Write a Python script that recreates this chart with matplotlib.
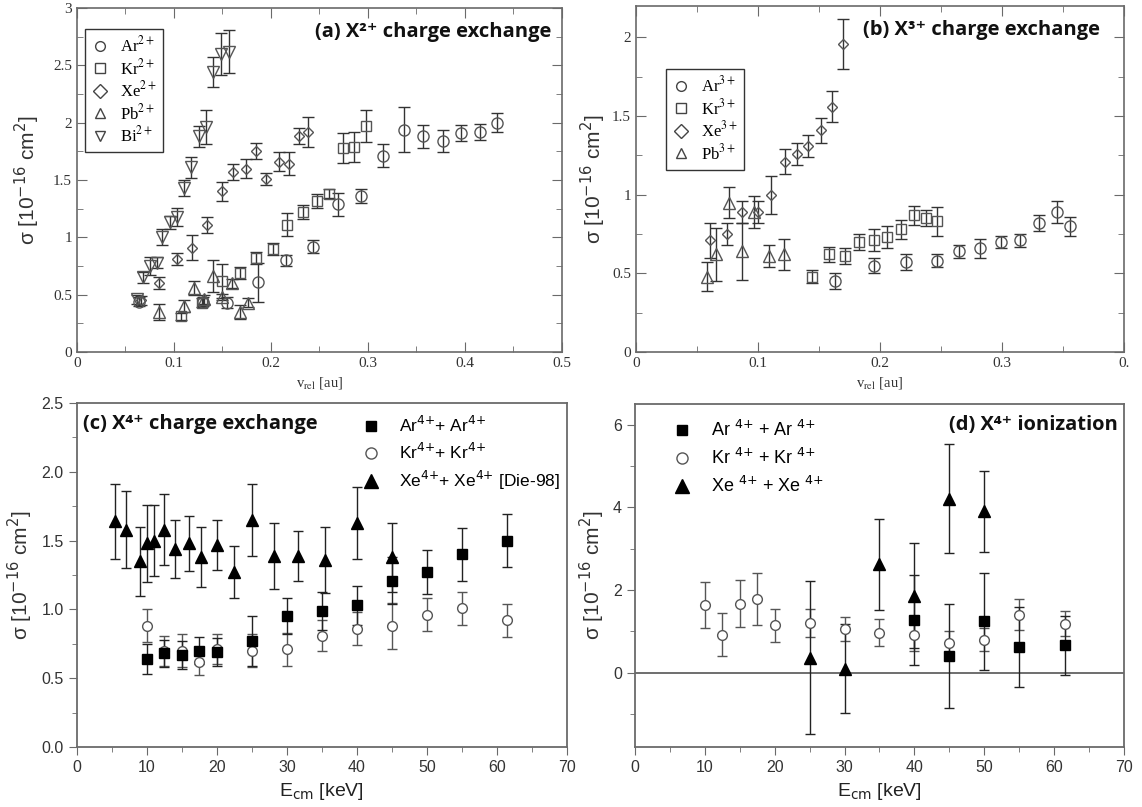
import matplotlib
matplotlib.use("Agg")
import matplotlib.pyplot as plt
from matplotlib.lines import Line2D
from matplotlib.ticker import MultipleLocator

# ---- (a) X2+ charge exchange : v_rel [au], sigma, error ----
ar2_v = [0.064, 0.130, 0.155, 0.187, 0.216, 0.243, 0.269, 0.293, 0.316, 0.337, 0.357, 0.377, 0.396, 0.415, 0.433]
ar2_s = [0.44, 0.44, 0.43, 0.61, 0.80, 0.92, 1.29, 1.36, 1.71, 1.94, 1.88, 1.84, 1.91, 1.92, 2.00]
ar2_e = [0.04, 0.04, 0.05, 0.17, 0.05, 0.06, 0.10, 0.06, 0.10, 0.20, 0.10, 0.10, 0.07, 0.07, 0.08]
kr2_v = [0.107, 0.129, 0.150, 0.168, 0.185, 0.202, 0.217, 0.233, 0.247, 0.260, 0.274, 0.286, 0.298]
kr2_s = [0.31, 0.43, 0.62, 0.69, 0.82, 0.90, 1.11, 1.22, 1.32, 1.38, 1.78, 1.79, 1.97]
kr2_e = [0.03, 0.04, 0.15, 0.05, 0.05, 0.05, 0.10, 0.06, 0.06, 0.04, 0.13, 0.13, 0.14]
xe2_v = [0.066, 0.085, 0.103, 0.119, 0.134, 0.149, 0.161, 0.174, 0.185, 0.195, 0.208, 0.219, 0.229, 0.238]
xe2_s = [0.45, 0.60, 0.81, 0.91, 1.11, 1.40, 1.57, 1.60, 1.75, 1.51, 1.66, 1.64, 1.88, 1.92]
xe2_e = [0.04, 0.05, 0.05, 0.11, 0.07, 0.08, 0.07, 0.08, 0.07, 0.05, 0.08, 0.10, 0.07, 0.13]
pb2_v = [0.085, 0.110, 0.121, 0.131, 0.140, 0.150, 0.160, 0.168, 0.176]
pb2_s = [0.35, 0.40, 0.56, 0.46, 0.66, 0.48, 0.60, 0.35, 0.43]
pb2_e = [0.07, 0.05, 0.06, 0.04, 0.14, 0.03, 0.04, 0.06, 0.04]
bi2_v = [0.062, 0.068, 0.075, 0.083, 0.088, 0.096, 0.103, 0.110, 0.118, 0.126, 0.133, 0.140, 0.148, 0.157]
bi2_s = [0.46, 0.65, 0.75, 0.78, 1.00, 1.13, 1.18, 1.43, 1.61, 1.88, 1.96, 2.44, 2.60, 2.62]
bi2_e = [0.04, 0.05, 0.08, 0.05, 0.07, 0.06, 0.08, 0.07, 0.09, 0.09, 0.15, 0.13, 0.18, 0.19]

# ---- (b) X3+ charge exchange ----
ar3_v = [0.163, 0.195, 0.221, 0.247, 0.265, 0.282, 0.299, 0.315, 0.330, 0.345, 0.356]
ar3_s = [0.45, 0.55, 0.57, 0.58, 0.64, 0.66, 0.70, 0.71, 0.82, 0.89, 0.80]
ar3_e = [0.05, 0.05, 0.05, 0.04, 0.04, 0.06, 0.04, 0.04, 0.05, 0.07, 0.06]
kr3_v = [0.144, 0.158, 0.171, 0.183, 0.195, 0.206, 0.217, 0.228, 0.238, 0.247]
kr3_s = [0.48, 0.62, 0.61, 0.70, 0.71, 0.73, 0.78, 0.87, 0.85, 0.83]
kr3_e = [0.04, 0.05, 0.05, 0.05, 0.07, 0.07, 0.06, 0.06, 0.05, 0.09]
xe3_v = [0.061, 0.075, 0.087, 0.100, 0.111, 0.122, 0.132, 0.141, 0.152, 0.161, 0.170]
xe3_s = [0.71, 0.75, 0.89, 0.89, 1.00, 1.21, 1.26, 1.31, 1.41, 1.56, 1.96]
xe3_e = [0.11, 0.07, 0.07, 0.07, 0.12, 0.08, 0.07, 0.07, 0.08, 0.10, 0.16]
pb3_v = [0.058, 0.066, 0.076, 0.087, 0.097, 0.109, 0.121]
pb3_s = [0.48, 0.62, 0.95, 0.64, 0.89, 0.61, 0.62]
pb3_e = [0.09, 0.17, 0.10, 0.18, 0.10, 0.07, 0.10]

# ---- (c) X4+ charge exchange : E_cm [keV] ----
e_arkr = [10, 12.5, 15, 17.5, 20, 25, 30, 35, 40, 45, 50, 55, 61.5]
ar4_cx = [0.64, 0.68, 0.67, 0.70, 0.69, 0.77, 0.95, 0.99, 1.03, 1.21, 1.27, 1.40, 1.50]
ar4_cx_e = [0.11, 0.10, 0.10, 0.10, 0.10, 0.18, 0.13, 0.14, 0.14, 0.17, 0.16, 0.19, 0.19]
kr4_cx = [0.88, 0.70, 0.70, 0.62, 0.71, 0.70, 0.71, 0.81, 0.86, 0.88, 0.96, 1.01, 0.92]
kr4_cx_e = [0.12, 0.11, 0.12, 0.10, 0.11, 0.12, 0.12, 0.11, 0.12, 0.17, 0.12, 0.12, 0.12]
e_xe_cx = [5.5, 7, 9, 10, 11, 12.5, 14, 16, 17.7, 20, 22.5, 25, 28.2, 31.6, 35.4, 40, 45]
xe4_cx = [1.64, 1.58, 1.35, 1.48, 1.50, 1.58, 1.44, 1.48, 1.38, 1.47, 1.27, 1.65, 1.39, 1.39, 1.36, 1.63, 1.38]
xe4_cx_e = [0.27, 0.28, 0.25, 0.28, 0.26, 0.26, 0.21, 0.20, 0.22, 0.18, 0.19, 0.26, 0.24, 0.18, 0.24, 0.26, 0.25]

# ---- (d) X4+ ionization ----
kr4_ion = [1.64, 0.92, 1.67, 1.78, 1.15, 1.21, 1.05, 0.97, 0.92, 0.71, 0.80, 1.40, 1.18]
kr4_ion_e = [0.56, 0.52, 0.57, 0.63, 0.40, 0.34, 0.29, 0.33, 0.40, 0.30, 0.28, 0.38, 0.30]
e_ar_ion = [40, 45, 50, 55, 61.5]
ar4_ion = [1.27, 0.41, 1.24, 0.62, 0.66]
ar4_ion_e = [1.09, 1.26, 1.17, 0.96, 0.72]
e_xe_ion = [25, 30, 35, 40, 45, 50]
xe4_ion = [0.36, 0.10, 2.62, 1.86, 4.21, 3.90]
xe4_ion_e = [1.85, 1.08, 1.10, 1.27, 1.31, 0.97]

SERIF = ["Liberation Serif", "DejaVu Serif"]
SANS = ["Liberation Sans", "DejaVu Sans"]
BOLD = ["Open Sans", "DejaVu Sans"]
SPINE = "#6a6a6a"
SIG_LABEL = "σ [10$^{-16}$ cm$^{2}$]"
Q4 = "$^{4{+}}$"

fig = plt.figure(figsize=(11.42, 8.07), dpi=100)


def open_errorbar(ax, x, y, e, marker, ms=7):
    ax.errorbar(x, y, yerr=e, fmt=marker, ms=ms, mfc="none", mec="#555555",
                mew=1.0, ecolor="#333333", elinewidth=1.0, capsize=4, capthick=1.0)


def style_serif_axes(ax):
    for s in ax.spines.values():
        s.set_color(SPINE)
        s.set_linewidth(1.2)
    ax.tick_params(which="both", direction="in", top=True, right=True, color=SPINE)
    ax.tick_params(which="major", length=7)
    ax.tick_params(which="minor", length=4)
    for t in ax.get_xticklabels() + ax.get_yticklabels():
        t.set_family(SERIF)
        t.set_fontsize(11)
        t.set_color("#333333")


def style_sans_axes(ax):
    for s in ax.spines.values():
        s.set_color(SPINE)
        s.set_linewidth(1.3)
    ax.tick_params(which="both", direction="out", color=SPINE)
    ax.tick_params(which="major", length=6)
    ax.tick_params(which="minor", length=3.5)
    for t in ax.get_xticklabels() + ax.get_yticklabels():
        t.set_family(SANS)
        t.set_fontsize(11.5)
        t.set_color("#333333")


def sigma_label(ax, pad):
    ax.set_ylabel(SIG_LABEL, family=SANS, fontsize=15, math_fontfamily="dejavusans",
                  labelpad=pad, color="#333333")


def serif_legend(ax, labels, markers, anchor):
    handles = [Line2D([], [], ls="none", marker=m, ms=7, mfc="none", mec="#444444", mew=1.0)
               for m in markers]
    leg = ax.legend(handles, labels, loc="upper left", bbox_to_anchor=anchor,
                    prop={"family": SERIF, "size": 12, "math_fontfamily": "stix"},
                    fancybox=False, edgecolor="#333333", framealpha=1,
                    handlelength=1.0, handletextpad=0.7, labelspacing=0.15,
                    borderpad=0.4, borderaxespad=0)
    leg.get_frame().set_linewidth(1.0)


# ---------------- (a) ----------------
ax_a = fig.add_axes([0.0674, 0.5638, 0.4247, 0.4263])
open_errorbar(ax_a, ar2_v, ar2_s, ar2_e, "o", ms=8)
open_errorbar(ax_a, kr2_v, kr2_s, kr2_e, "s", ms=6.5)
open_errorbar(ax_a, xe2_v, xe2_s, xe2_e, "D", ms=5.5)
open_errorbar(ax_a, pb2_v, pb2_s, pb2_e, "^", ms=8)
open_errorbar(ax_a, bi2_v, bi2_s, bi2_e, "v", ms=8)
ax_a.set_xlim(0, 0.5)
ax_a.set_ylim(0, 3)
ax_a.set_xticks([0, 0.1, 0.2, 0.3, 0.4, 0.5], ["0", "0.1", "0.2", "0.3", "0.4", "0.5"])
ax_a.set_yticks([0, 0.5, 1, 1.5, 2, 2.5, 3], ["0", "0.5", "1", "1.5", "2", "2.5", "3"])
ax_a.xaxis.set_minor_locator(MultipleLocator(0.05))
ax_a.yaxis.set_minor_locator(MultipleLocator(0.25))
style_serif_axes(ax_a)
ax_a.set_xlabel(r"v$_{\rm rel}$ [au]", family=SERIF, fontsize=10.5, math_fontfamily="stix",
                labelpad=4, color="#333333")
sigma_label(ax_a, 8)
serif_legend(ax_a, [r"Ar$^{2+}$", r"Kr$^{2+}$", r"Xe$^{2+}$", r"Pb$^{2+}$", r"Bi$^{2+}$"],
             ["o", "s", "D", "^", "v"], (0.0165, 0.939))
ax_a.text(0.979, 0.93, "(a) X²⁺ charge exchange", transform=ax_a.transAxes,
          ha="right", va="center", fontsize=14.5, fontweight="bold", family=BOLD, color="#111111")

# ---------------- (b) ----------------
ax_b = fig.add_axes([0.5569, 0.5638, 0.4273, 0.4288])
open_errorbar(ax_b, ar3_v, ar3_s, ar3_e, "o", ms=8)
open_errorbar(ax_b, kr3_v, kr3_s, kr3_e, "s", ms=6.5)
open_errorbar(ax_b, xe3_v, xe3_s, xe3_e, "D", ms=5.5)
open_errorbar(ax_b, pb3_v, pb3_s, pb3_e, "^", ms=8)
ax_b.set_xlim(0, 0.4)
ax_b.set_ylim(0, 2.2)
ax_b.set_xticks([0, 0.1, 0.2, 0.3, 0.4], ["0", "0.1", "0.2", "0.3", "0."])
ax_b.set_yticks([0, 0.5, 1, 1.5, 2], ["0", "0.5", "1", "1.5", "2"])
ax_b.xaxis.set_minor_locator(MultipleLocator(0.05))
ax_b.yaxis.set_minor_locator(MultipleLocator(0.25))
style_serif_axes(ax_b)
ax_b.set_xlabel(r"v$_{\rm rel}$ [au]", family=SERIF, fontsize=10.5, math_fontfamily="stix",
                labelpad=4, color="#333333")
sigma_label(ax_b, 3)
serif_legend(ax_b, [r"Ar$^{3+}$", r"Kr$^{3+}$", r"Xe$^{3+}$", r"Pb$^{3+}$"],
             ["o", "s", "D", "^"], (0.0615, 0.818))
ax_b.text(0.951, 0.93, "(b) X³⁺ charge exchange", transform=ax_b.transAxes,
          ha="right", va="center", fontsize=14.5, fontweight="bold", family=BOLD, color="#111111")


# ---------------- (c) and (d) helpers ----------------
def filled(ax, x, y, e, marker, ms):
    ax.errorbar(x, y, yerr=e, fmt=marker, ms=ms, mfc="black", mec="black",
                ecolor="#222222", elinewidth=1.0, capsize=3.5, capthick=1.0)


def hollow(ax, x, y, e, ms=7):
    ax.errorbar(x, y, yerr=e, fmt="o", ms=ms, mfc="white", mec="#555555", mew=1.0,
                ecolor="#555555", elinewidth=1.0, capsize=3.5, capthick=1.0)


def sans_legend(ax, labels, anchor, spacing, size):
    handles = [
        Line2D([], [], ls="none", marker="s", ms=7.5, mfc="black", mec="black"),
        Line2D([], [], ls="none", marker="o", ms=8, mfc="white", mec="#555555", mew=1.0),
        Line2D([], [], ls="none", marker="^", ms=9.5, mfc="black", mec="black"),
    ]
    ax.legend(handles, labels, loc="upper left", bbox_to_anchor=anchor, frameon=False,
              prop={"family": SANS, "size": size, "math_fontfamily": "dejavusans"},
              handlelength=1.2, handletextpad=1.0, labelspacing=spacing, borderaxespad=0)


# ---------------- (c) ----------------
ax_c = fig.add_axes([0.0674, 0.0743, 0.429, 0.4263])
hollow(ax_c, e_arkr, kr4_cx, kr4_cx_e)
filled(ax_c, e_arkr, ar4_cx, ar4_cx_e, "s", 6.5)
filled(ax_c, e_xe_cx, xe4_cx, xe4_cx_e, "^", 8.5)
ax_c.set_xlim(0, 70)
ax_c.set_ylim(0, 2.5)
ax_c.xaxis.set_major_locator(MultipleLocator(10))
ax_c.xaxis.set_minor_locator(MultipleLocator(5))
ax_c.set_yticks([0, 0.5, 1.0, 1.5, 2.0, 2.5], ["0.0", "0.5", "1.0", "1.5", "2.0", "2.5"])
ax_c.yaxis.set_minor_locator(MultipleLocator(0.25))
style_sans_axes(ax_c)
ax_c.set_xlabel(r"E$_{\rm cm}$ [keV]", family=SANS, fontsize=14, math_fontfamily="dejavusans",
                color="#222222")
sigma_label(ax_c, 5)
sans_legend(ax_c, [f"Ar{Q4}+ Ar{Q4}", f"Kr{Q4}+ Kr{Q4}", f"Xe{Q4}+ Xe{Q4} [Die-98]"],
            (0.565, 0.985), 0.4, 12.5)
ax_c.text(0.012, 0.939, "(c) X⁴⁺ charge exchange", transform=ax_c.transAxes,
          ha="left", va="center", fontsize=14.5, fontweight="bold", family=BOLD, color="#111111")

# ---------------- (d) ----------------
ax_d = fig.add_axes([0.556, 0.0743, 0.4282, 0.4251])
ax_d.axhline(0, color="#555555", lw=1.2, zorder=1)
hollow(ax_d, e_arkr, kr4_ion, kr4_ion_e)
filled(ax_d, e_ar_ion, ar4_ion, ar4_ion_e, "s", 6.5)
filled(ax_d, e_xe_ion, xe4_ion, xe4_ion_e, "^", 8.5)
ax_d.set_xlim(0, 70)
ax_d.set_ylim(-1.8, 6.5)
ax_d.xaxis.set_major_locator(MultipleLocator(10))
ax_d.xaxis.set_minor_locator(MultipleLocator(5))
ax_d.set_yticks([0, 2, 4, 6], ["0", "2", "4", "6"])
ax_d.yaxis.set_minor_locator(MultipleLocator(1))
style_sans_axes(ax_d)
ax_d.set_xlabel(r"E$_{\rm cm}$ [keV]", family=SANS, fontsize=14, math_fontfamily="dejavusans",
                color="#222222")
sigma_label(ax_d, 4)
sans_legend(ax_d, [f"Ar {Q4} + Ar {Q4}", f"Kr {Q4} + Kr {Q4}", f"Xe {Q4} + Xe {Q4}"],
            (0.06, 0.975), 0.45, 13)
ax_d.text(0.988, 0.939, "(d) X⁴⁺ ionization", transform=ax_d.transAxes,
          ha="right", va="center", fontsize=14.5, fontweight="bold", family=BOLD, color="#111111")

fig.savefig("out.png", dpi=100)
